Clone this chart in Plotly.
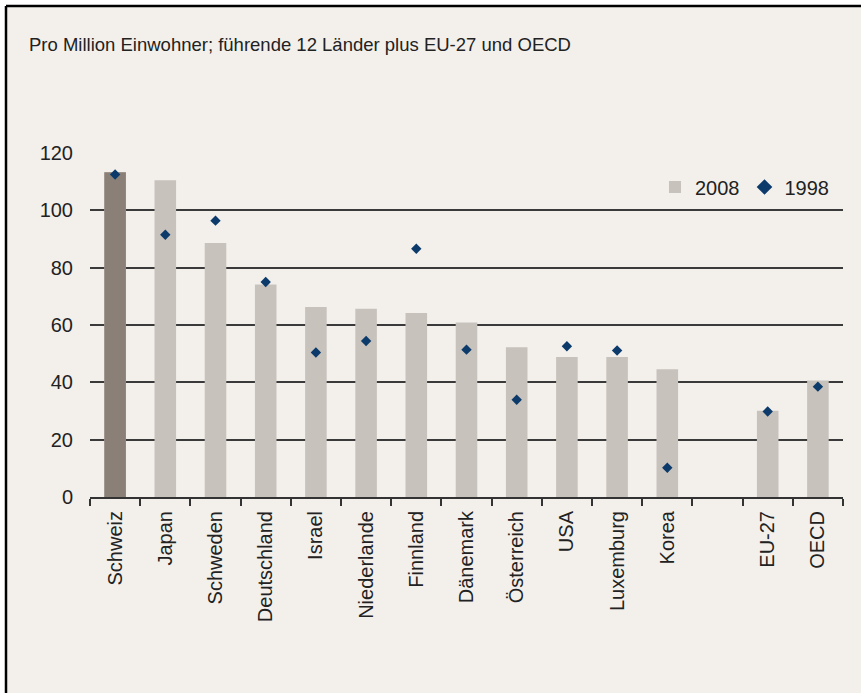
import plotly.graph_objects as go

categories = ["Schweiz", "Japan", "Schweden", "Deutschland", "Israel", "Niederlande",
              "Finnland", "Dänemark", "Österreich", "USA", "Luxemburg", "Korea",
              " ", "EU-27", "OECD"]
values_2008 = [113.3, 110.5, 88.6, 74.1, 66.3, 65.7, 64.2, 60.9, 52.2, 48.8, 48.8, 44.6,
               None, 30.1, 40.6]
values_1998 = [112.5, 91.5, 96.4, 75.0, 50.4, 54.4, 86.6, 51.4, 33.9, 52.6, 51.1, 10.2,
               None, 29.8, 38.5]
highlight = ["Schweiz"]
highlight_vals = [values_2008[0]]
ytick_vals = [0, 20, 40, 60, 80, 100, 120]

W, H = 861, 693
ML, MR, MT, MB = 90, 18, 153, 196
PW = W - ML - MR
PH = H - MT - MB


def px_x(p):
    return (p - ML) / PW


def px_y(p):
    return (H - MB - p) / PH


BAR_LIGHT = "#C8C2BC"
BAR_DARK = "#8A8077"
NAVY = "#0B3A6B"
BG = "#F3F0EC"
TXT = "#222222"
FONT = "Liberation Sans, Arial, Helvetica, sans-serif"

fig = go.Figure()
fig.add_trace(go.Bar(x=categories, y=values_2008, name="2008",
                     marker=dict(color=BAR_LIGHT, line=dict(width=0)),
                     width=0.43, hoverinfo="x+y"))
fig.add_trace(go.Bar(x=highlight, y=highlight_vals, name="2008 CH", showlegend=False,
                     marker=dict(color=BAR_DARK, line=dict(width=0)),
                     width=0.43))
fig.add_trace(go.Scatter(x=categories, y=values_1998, name="1998", mode="markers",
                         marker=dict(symbol="diamond", size=8, color=NAVY,
                                     line=dict(width=0))))

frame_shapes = [
    # white outer strips (outside of the framed box)
    dict(type="rect", xref="paper", yref="paper", x0=px_x(0), x1=px_x(W),
         y0=px_y(6), y1=px_y(0), line=dict(width=0), fillcolor="white", layer="below"),
    dict(type="rect", xref="paper", yref="paper", x0=px_x(0), x1=px_x(6),
         y0=px_y(H), y1=px_y(0), line=dict(width=0), fillcolor="white", layer="below"),
    # black frame lines (top and left)
    dict(type="line", xref="paper", yref="paper", x0=px_x(6), x1=px_x(W),
         y0=px_y(6), y1=px_y(6), line=dict(color="black", width=2.5), layer="below"),
    dict(type="line", xref="paper", yref="paper", x0=px_x(6), x1=px_x(6),
         y0=px_y(6), y1=px_y(H), line=dict(color="black", width=2.5), layer="below"),
]

fig.update_layout(
    width=W, height=H,
    margin=dict(l=ML, r=MR, t=MT, b=MB),
    paper_bgcolor=BG,
    plot_bgcolor="rgba(0,0,0,0)",
    barmode="overlay",
    font=dict(family=FONT, size=20, color=TXT),
    showlegend=True,
    legend=dict(orientation="h", x=px_x(834), xanchor="right", y=px_y(187),
                yanchor="middle", bgcolor="rgba(0,0,0,0)", itemwidth=30,
                font=dict(size=20, color=TXT), traceorder="normal",
                itemsizing="constant"),
    shapes=frame_shapes,
    annotations=[dict(text="Pro Million Einwohner; führende 12 Länder plus EU-27 und OECD",
                      xref="paper", yref="paper", x=px_x(27), y=px_y(44),
                      xanchor="left", yanchor="middle", showarrow=False,
                      font=dict(size=18.5, color=TXT, family=FONT))],
)

fig.update_xaxes(type="category", categoryorder="array", categoryarray=categories,
                 tickangle=-90, ticks="outside", tickson="boundaries", ticklen=7,
                 tickwidth=1.5, tickcolor="#333333", showline=True, linecolor="#333333",
                 linewidth=2, showgrid=False, zeroline=False,
                 tickfont=dict(size=20, color=TXT), range=[-0.5, 14.5],
                 ticklabelstandoff=4)
fig.update_yaxes(range=[0, 120], tickvals=ytick_vals, showgrid=True,
                 gridcolor="#3a3a3a", gridwidth=1.5, zeroline=False, showline=False,
                 ticks="", tickfont=dict(size=20, color=TXT), ticklabelstandoff=16)

fig.write_html("out.html", config={"displayModeBar": False},
               post_script="document.body.style.margin='0px';document.body.style.overflow='hidden';")
